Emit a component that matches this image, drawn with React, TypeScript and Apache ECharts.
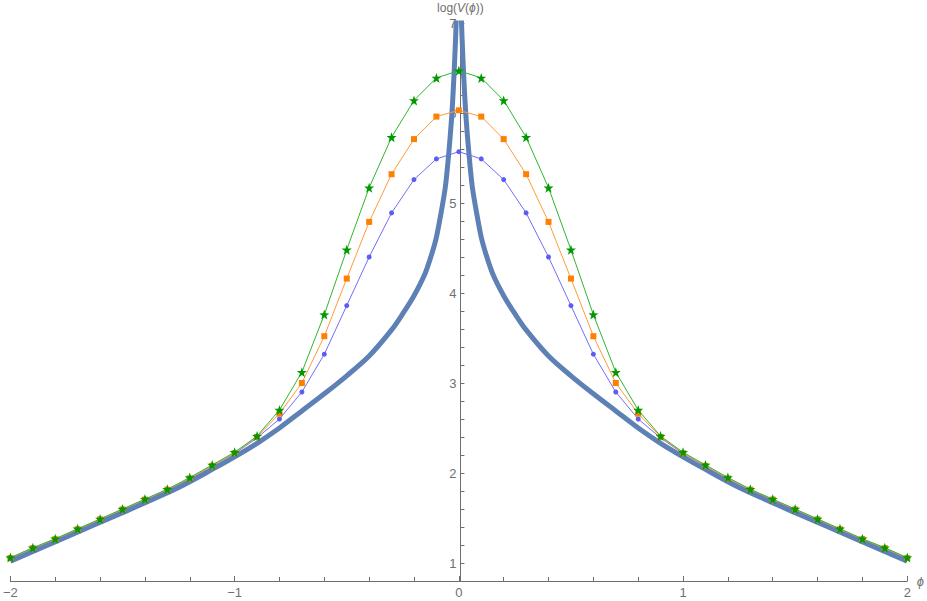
import React, { useEffect, useRef } from "react";
import * as echarts from "echarts";

// grid of field values for the sampled series
const phiGrid = [
  -2, -1.9, -1.8, -1.7, -1.6, -1.5, -1.4, -1.3, -1.2, -1.1, -1, -0.9, -0.8, -0.7, -0.6, -0.5, -0.4, -0.3, -0.2, -0.1,
  0, 0.1, 0.2, 0.3, 0.4, 0.5, 0.6, 0.7, 0.8, 0.9, 1, 1.1, 1.2, 1.3, 1.4, 1.5, 1.6, 1.7, 1.8, 1.9, 2,
];

const blueValues = [
  1.05, 1.16, 1.26, 1.37, 1.48, 1.59, 1.7, 1.81, 1.935, 2.075, 2.215, 2.39, 2.6, 2.9, 3.32, 3.86, 4.4, 4.89, 5.26, 5.49,
  5.57, 5.49, 5.26, 4.89, 4.4, 3.86, 3.32, 2.9, 2.6, 2.39, 2.215, 2.075, 1.935, 1.81, 1.7, 1.59, 1.48, 1.37, 1.26, 1.16, 1.05,
];

const orangeValues = [
  1.055, 1.165, 1.265, 1.375, 1.485, 1.595, 1.705, 1.815, 1.94, 2.08, 2.22, 2.4, 2.66, 3.0, 3.52, 4.16, 4.79, 5.32, 5.71, 5.96,
  6.03, 5.96, 5.71, 5.32, 4.79, 4.16, 3.52, 3.0, 2.66, 2.4, 2.22, 2.08, 1.94, 1.815, 1.705, 1.595, 1.485, 1.375, 1.265, 1.165, 1.055,
];

const greenValues = [
  1.06, 1.17, 1.27, 1.38, 1.49, 1.6, 1.71, 1.82, 1.95, 2.09, 2.23, 2.41, 2.7, 3.12, 3.76, 4.48, 5.17, 5.73, 6.14, 6.39,
  6.47, 6.39, 6.14, 5.73, 5.17, 4.48, 3.76, 3.12, 2.7, 2.41, 2.23, 2.09, 1.95, 1.82, 1.71, 1.6, 1.49, 1.38, 1.27, 1.17, 1.06,
];

// thick exact curve log(V(phi))
const curvePhi = [
  -2, -1.75, -1.5, -1.25, -1.1, -1, -0.9, -0.8, -0.7, -0.6, -0.5, -0.4, -0.3, -0.25, -0.2, -0.15, -0.12, -0.1, -0.08,
  -0.06, -0.045, -0.033, -0.025, -0.018, -0.012, -0.008,
  0.008, 0.012, 0.018, 0.025, 0.033, 0.045, 0.06, 0.08, 0.1, 0.12, 0.15, 0.2, 0.25, 0.3, 0.4, 0.5, 0.6, 0.7, 0.8, 0.9,
  1, 1.1, 1.25, 1.5, 1.75, 2,
];
const curveLogV = [
  1.02, 1.29, 1.56, 1.84, 2.04, 2.18, 2.33, 2.5, 2.69, 2.88, 3.08, 3.3, 3.59, 3.77, 3.97, 4.22, 4.44, 4.62, 4.88,
  5.18, 5.55, 5.92, 6.25, 6.62, 7.0, 7.45,
  7.45, 7.0, 6.62, 6.25, 5.92, 5.55, 5.18, 4.88, 4.62, 4.44, 4.22, 3.97, 3.77, 3.59, 3.3, 3.08, 2.88, 2.69, 2.5, 2.33,
  2.18, 2.04, 1.84, 1.56, 1.29, 1.02,
];

const yTickLabels = [1, 2, 3, 4, 5, 6, 7];
const yTickPositions = [
  0.8, 1, 1.2, 1.4, 1.6, 1.8, 2, 2.2, 2.4, 2.6, 2.8, 3, 3.2, 3.4, 3.6, 3.8, 4, 4.2, 4.4, 4.6, 4.8, 5, 5.2, 5.4, 5.6,
  5.8, 6, 6.2, 6.4, 6.6, 6.8, 7,
];

const STAR =
  "path://M0,-10 L2.35,-3.24 L9.51,-3.09 L3.8,1.24 L5.88,8.09 L0,4 L-5.88,8.09 L-3.8,1.24 L-9.51,-3.09 L-2.35,-3.24 Z";

export default function App() {
  const ref = useRef<HTMLDivElement>(null);
  useEffect(() => {
    if (!ref.current) return;
    const chart = echarts.init(ref.current, undefined, { renderer: "svg" });
    const axisColor = "#6e6e6e";
    const labelColor = "#707070";
    const font = "'Liberation Sans', Arial, sans-serif";
    const gridLeft = 8;
    const gridRight = 19;
    const plotWidth = 927 - gridLeft - gridRight;
    chart.setOption({
      animation: false,
      backgroundColor: "#ffffff",
      grid: { left: gridLeft, right: gridRight, top: 23, bottom: 20, containLabel: false },
      xAxis: {
        type: "value",
        min: -2,
        max: 2,
        interval: 1,
        name: "ϕ",
        nameLocation: "end",
        nameGap: 8,
        nameTextStyle: { color: labelColor, fontSize: 13, fontStyle: "italic", fontFamily: font },
        axisLine: { show: true, onZero: false, lineStyle: { color: axisColor, width: 1 } },
        axisTick: { show: true, inside: true, length: 5, lineStyle: { color: axisColor } },
        minorTick: { show: true, splitNumber: 5, length: 4, lineStyle: { color: axisColor } },
        axisLabel: {
          color: labelColor,
          fontSize: 13,
          fontFamily: font,
          margin: 5,
          formatter: (v: number) => String(v).replace("-", "−"),
        },
        splitLine: { show: false },
        minorSplitLine: { show: false },
      },
      yAxis: {
        type: "value",
        min: 0.8,
        max: 7,
        position: "left",
        offset: -plotWidth / 2,
        name: "{n|log(}{i|V}{n|(}{i|ϕ}{n|))}",
        nameLocation: "end",
        nameGap: 9,
        nameTextStyle: {
          color: labelColor,
          fontSize: 12,
          fontFamily: font,
          rich: {
            n: { color: labelColor, fontSize: 12, fontFamily: font },
            i: { color: labelColor, fontSize: 12, fontFamily: font, fontStyle: "italic" },
          },
        },
        axisLine: { show: true, onZero: false, lineStyle: { color: axisColor, width: 1 } },
        axisTick: {
          show: true,
          inside: true,
          length: 4,
          customValues: yTickPositions,
          lineStyle: { color: axisColor },
        },
        axisLabel: {
          color: labelColor,
          fontSize: 13,
          fontFamily: font,
          margin: 4,
          customValues: yTickLabels,
        },
        splitLine: { show: false },
      },
      series: [
        {
          type: "line",
          data: curvePhi.map((x, i) => [x, curveLogV[i]]),
          showSymbol: false,
          symbol: "none",
          smooth: 0.3,
          lineStyle: { color: "#5E81B5", width: 5 },
          z: 1,
          clip: true,
        },
        {
          type: "line",
          data: phiGrid.map((x, i) => [x, blueValues[i]]),
          symbol: "circle",
          symbolSize: 5,
          itemStyle: { color: "#5c5cf5" },
          lineStyle: { color: "#6f6ff7", width: 1 },
          z: 2,
        },
        {
          type: "line",
          data: phiGrid.map((x, i) => [x, orangeValues[i]]),
          symbol: "rect",
          symbolSize: 6,
          itemStyle: { color: "#ff7f00" },
          lineStyle: { color: "#ff9a3a", width: 1 },
          z: 3,
        },
        {
          type: "line",
          data: phiGrid.map((x, i) => [x, greenValues[i]]),
          symbol: STAR,
          symbolSize: 10,
          itemStyle: { color: "#009900" },
          lineStyle: { color: "#2fb52f", width: 1 },
          z: 4,
        },
      ],
    });
    return () => chart.dispose();
  }, []);
  return (
    <div
      ref={ref}
      style={{ position: "fixed", left: 0, top: 0, width: 927, height: 601, background: "#fff" }}
    />
  );
}
